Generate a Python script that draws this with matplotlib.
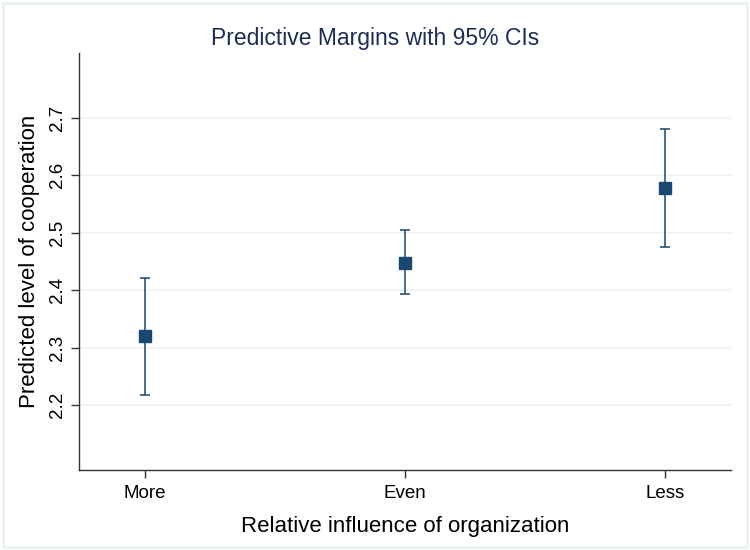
import matplotlib
matplotlib.use("Agg")
import matplotlib.pyplot as plt
from matplotlib.patches import Rectangle

# margins
categories = ["More", "Even", "Less"]
margins = [2.320, 2.448, 2.578]
ci_low = [2.217, 2.394, 2.476]
ci_high = [2.421, 2.504, 2.680]
yticks = [2.2, 2.3, 2.4, 2.5, 2.6, 2.7]

navy = "#1a476f"
grid_col = "#eaf2f3"

plt.rcParams["font.family"] = ["Liberation Sans", "DejaVu Sans"]

fig = plt.figure(figsize=(7.5, 5.5), dpi=100)
ax = fig.add_axes([0.1053, 0.1455, 0.8694, 0.7581])

xpos = list(range(1, len(categories) + 1))
yerr = [[m - lo for m, lo in zip(margins, ci_low)],
        [hi - m for m, hi in zip(margins, ci_high)]]

ax.errorbar(xpos, margins, yerr=yerr, fmt="s", color=navy, ecolor=navy,
            markersize=9, elinewidth=1.1, capsize=3.3, capthick=1.1, zorder=3)

ax.set_xlim(0.748, 3.252)
ax.set_ylim(2.087, 2.813)
ax.set_xticks(xpos)
ax.set_xticklabels(categories)
ax.set_yticks(yticks)
ax.set_yticklabels([f"{t:.1f}" for t in yticks], rotation=90, va="center")

ax.grid(axis="y", color=grid_col, linewidth=1.2, zorder=0)
ax.set_axisbelow(True)
for side in ["top", "right"]:
    ax.spines[side].set_visible(False)
for side in ["left", "bottom"]:
    ax.spines[side].set_color("#333333")
    ax.spines[side].set_linewidth(1.0)

ax.tick_params(axis="both", labelsize=13.5, colors="#333333", labelcolor="black",
               length=6, width=1.0)
ax.tick_params(axis="y", pad=3)
ax.tick_params(axis="x", pad=5)

ax.set_xlabel("Relative influence of organization", fontsize=16, labelpad=10)
ax.set_ylabel("Predicted level of cooperation", fontsize=16, labelpad=7)

fig.text(0.5, 1 - 38 / 550, "Predictive Margins with 95% CIs", ha="center",
         va="center", fontsize=16.5, color="#1e2d53")

# light outer frame of the graph region
fig.patches.append(Rectangle((3 / 750, 3 / 550), 744 / 750, 544 / 550,
                             transform=fig.transFigure, fill=False,
                             edgecolor=grid_col, linewidth=2))

fig.savefig("out.png", dpi=100)
